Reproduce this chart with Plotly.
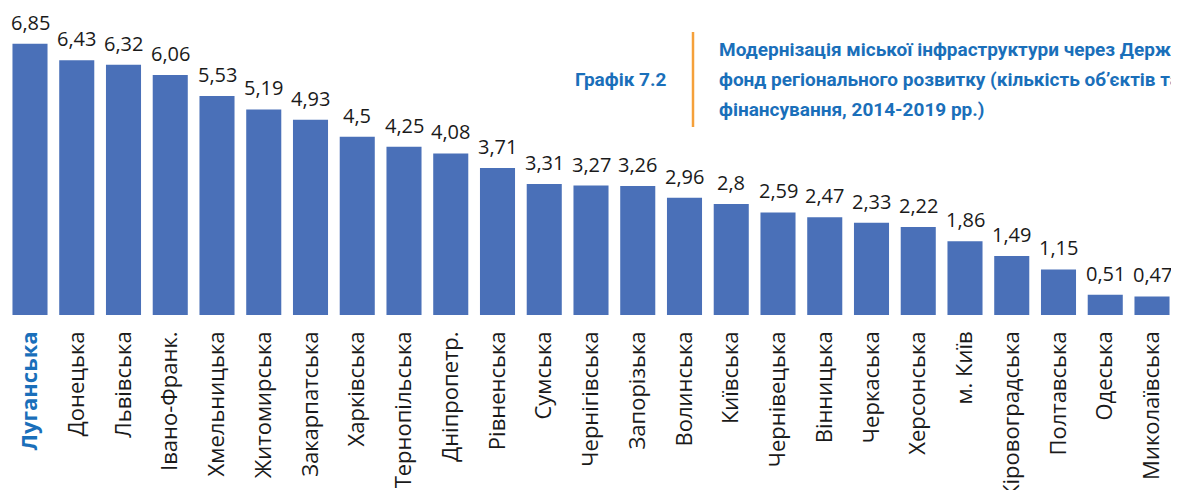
import plotly.graph_objects as go

regions = ["Луганська", "Донецька", "Львівська", "Івано-Франк.", "Хмельницька", "Житомирська",
           "Закарпатська", "Харківська", "Тернопільська", "Дніпропетр.", "Рівненська", "Сумська",
           "Чернігівська", "Запорізька", "Волинська", "Київська", "Чернівецька", "Вінницька",
           "Черкаська", "Херсонська", "м. Київ", "Кіровоградська", "Полтавська", "Одеська",
           "Миколаївська"]
values = [6.85, 6.43, 6.32, 6.06, 5.53, 5.19, 4.93, 4.5, 4.25, 4.08, 3.71, 3.31, 3.27, 3.26,
          2.96, 2.8, 2.59, 2.47, 2.33, 2.22, 1.86, 1.49, 1.15, 0.51, 0.47]
value_labels = [f"{v:g}".replace(".", ",") for v in values]
tick_labels = ["<b><span style='color:#1a6fba'>" + regions[0] + "</span></b>"] + regions[1:]

chart_label = "Графік 7.2"
title_lines = ["Модернізація міської інфраструктури через Державний",
               "фонд регіонального розвитку (кількість об’єктів та обсяг",
               "фінансування, 2014-2019 рр.)"]

# the page body adds an 8px offset; figure is sized/positioned to compensate
OFF = 8
W, H = 1179 - OFF, 490 - OFF
ML, MR, MT, MB = 0, 0, 10, 175
STEP = 46.75          # px per category
FIRST_CENTER = 30 - OFF

x_lo = (0 - FIRST_CENTER) / STEP
x_hi = (W - FIRST_CENTER) / STEP
xs = list(range(len(regions)))

fig = go.Figure(go.Bar(
    x=xs, y=values,
    marker=dict(color="#4a70b8", line=dict(width=0)),
    cliponaxis=False,
))

def px2paper(px):
    return (px - OFF - ML) / (W - ML - MR)

def py2paper(py):
    return 1 - (py - OFF - MT) / (H - MT - MB)

annotations = []
for x, v, lab in zip(xs, values, value_labels):
    annotations.append(dict(text=lab, x=x, y=v, xref="x", yref="y", xanchor="center",
                            yanchor="bottom", yshift=6, showarrow=False,
                            font=dict(family="Open Sans", size=20, color="#1a1a1a")))

annotations.append(dict(text=chart_label, xref="paper", yref="paper", x=px2paper(669), y=py2paper(80),
                        xanchor="right", yanchor="middle", showarrow=False,
                        font=dict(family="Roboto", size=19, color="#1a6fba", weight="bold")))
for i, line in enumerate(title_lines):
    annotations.append(dict(text="<b>" + line + "</b>", xref="paper", yref="paper",
                            x=px2paper(717), y=py2paper(50 + 30 * i),
                            xanchor="left", yanchor="middle", showarrow=False,
                            font=dict(family="Roboto", size=19, color="#1a6fba")))

fig.update_layout(
    width=W, height=H, margin=dict(l=ML, r=MR, t=MT, b=MB, autoexpand=False),
    paper_bgcolor="white", plot_bgcolor="white", showlegend=False, bargap=0.25,
    xaxis=dict(tickmode="array", tickvals=xs, ticktext=tick_labels,
               tickangle=-90, range=[x_lo, x_hi],
               tickfont=dict(family="Open Sans", size=22, color="#1a1a1a"), automargin=False,
               showgrid=False, showline=False, zeroline=False, ticks="", ticklabelstandoff=11),
    yaxis=dict(range=[0, 7.5], visible=False, automargin=False),
    annotations=annotations,
    shapes=[dict(type="line", xref="paper", yref="paper", x0=px2paper(693), x1=px2paper(693),
                 y0=py2paper(32), y1=py2paper(127), line=dict(color="#f5a03a", width=2.5))],
)

fig.write_html("out.html")
